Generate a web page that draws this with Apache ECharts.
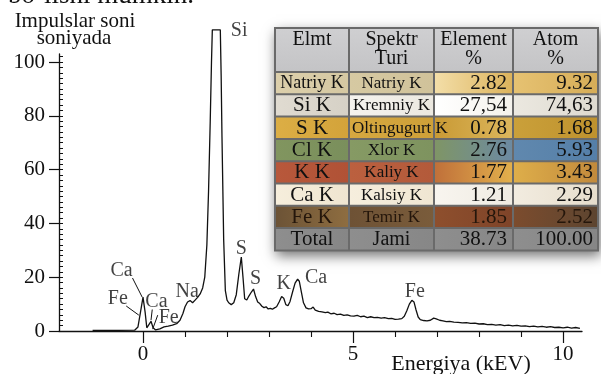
<!DOCTYPE html>
<html><head><meta charset="utf-8">
<script src="https://cdn.jsdelivr.net/npm/echarts@6/dist/echarts.min.js"></script>
<style>html,body{margin:0;padding:0;background:#fff}#c{width:601px;height:374px}</style>
</head><body><div id="c"></div>
<script>
// ---- spectrum ----
const energy = [-1.2,-0.6,-0.2,-0.12,-0.06,0,0.05,0.09,0.13,0.19,0.24,0.3,0.4,0.5,0.6,0.7,0.8,0.88,0.95,1.0,1.06,1.12,1.18,1.24,1.3,1.36,1.42,1.47,1.52,1.56,1.6,1.63,1.65,1.84,1.86,1.88,1.92,1.96,2.0,2.04,2.1,2.16,2.22,2.28,2.34,2.38,2.42,2.47,2.52,2.58,2.63,2.68,2.73,2.78,2.83,2.88,2.93,2.98,3.03,3.08,3.13,3.18,3.24,3.3,3.35,3.4,3.45,3.5,3.56,3.62,3.68,3.72,3.77,3.82,3.88,3.94,4.0,4.05,4.1,4.18,4.26,4.34,4.4,4.47,4.55,4.62,4.7,4.78,4.86,4.94,5.02,5.1,5.18,5.26,5.34,5.42,5.5,5.58,5.67,5.75,5.84,5.92,6.0,6.08,6.16,6.22,6.28,6.34,6.4,6.45,6.5,6.55,6.6,6.68,6.76,6.84,6.92,6.98,7.06,7.14,7.22,7.3,7.4,7.5,7.6,7.7,7.8,7.9,8.0,8.1,8.2,8.3,8.4,8.5,8.6,8.7,8.8,8.9,9.0,9.1,9.2,9.3,9.4,9.5,9.6,9.7,9.8,9.9,10.0,10.1,10.2,10.3,10.4];
const counts = [0.2,0.2,0.3,1.5,7,12.6,7,1.2,1.0,3.6,1.2,0.4,0.8,1.5,1.8,2.2,2.7,4,6.5,9,10.8,11.3,10.5,11.5,12.5,13.8,16,20,32,52,78,100,112,112,95,72,34,15,11.5,10.5,9.8,10.5,13.5,21,27.5,20,12,11.5,13,14.5,15.6,12.8,10.8,10.2,9.2,8.7,9.0,8.2,8.4,8.1,8.6,9.0,10.8,12.8,12.2,9.8,9.4,11,14.5,17.8,19.3,18.5,14.5,10.5,8.6,8.2,8.3,8.9,7.8,7.3,7.1,6.8,7.0,6.4,6.6,6.1,6.3,5.8,6.0,5.6,5.5,5.8,5.3,5.5,5.0,5.3,5.0,5.1,4.8,5.0,4.6,4.7,4.3,4.4,4.6,5.5,7.5,10,11.4,10.8,7.8,5.2,4.2,3.9,3.8,4.0,4.8,4.5,4.0,3.8,3.5,3.6,3.3,3.2,3.0,3.1,2.8,2.9,2.6,2.7,2.4,2.5,2.2,2.4,2.0,2.2,1.9,2.1,1.8,1.9,1.6,1.8,1.5,1.7,1.4,1.6,1.3,1.4,1.2,1.4,1.1,1.3,1.0];

// ---- peak labels ----
const peakNames = ['Si','S','S','K','Ca','Fe','Na','Ca','Fe','Ca','Fe'];
const peakLabelX = [2.29,2.34,2.68,3.35,4.12,6.47,1.05,-0.51,-0.6,0.32,0.61];
const peakLabelY = [111.5,30.5,19.5,17.5,19.9,14.5,14.5,22.3,12.0,11.0,4.8];
// leader lines
const leaderX1 = [-0.25,-0.40,0.22,0.35];
const leaderY1 = [19.7,9.3,8.0,5.9];
const leaderX2 = [-0.02,-0.10,0.19,0.23];
const leaderY2 = [12.6,5.9,4.0,0.7];

// ---- ticks ----
const xMajorTicks = [0,5,10];
const xMinorTicks = [1,2,3,4,6,7,8,9];
const yMajorTicks = [0,20,40,60,80,100];
const yMinorTicks = [2,4,6,8,10,12,14,16,18,20,22,24,26,28,30,32,34,36,38,40,42,44,46,48,50,52,54,56,58,60,62,64,66,68,70,72,74,76,78,80,82,84,86,88,90,92,94,96,98,100,102];

// ---- table ----
const tableHeaderTop = ['Elmt','Spektr','Element','Atom'];
const tableHeaderBottom = ['','Turi','%','%'];
const elementNames = ['Natriy K','Si K','S K','Cl K','K K','Ca K','Fe K','Total'];
const spectrumTypes = ['Natriy K','Kremniy K','Oltingugurt K','Xlor K','Kaliy K','Kalsiy K','Temir K','Jami'];
const elementPct = ['2.82','27,54','0.78','2.76','1.77','1.21','1.85','38.73'];
const atomPct = ['9.32','74,63','1.68','5.93','3.43','2.29','2.52','100.00'];

const FONT = "'Liberation Serif', 'DejaVu Serif', serif";
const INK = '#111111';
const rowColors = [
  [['#dccfab','#d5c8a2'],['#d6c9a2','#d0c29a'],['#f3dea8','#dcb35c'],['#e6c272','#d6ad58']],
  [['#e0dbd1','#d6d1c6'],['#f5f3ee','#ebe8e0'],['#ffffff','#f4f2ec'],['#ebe8e0','#dedad0']],
  [['#dcae45','#d3a33a'],['#d6a840','#cea038'],['#c99a35','#dcb65c'],['#caa03a','#bf922e']],
  [['#81955f','#7a8f5c'],['#869a64','#7e935f'],['#7f9566','#6c8aa2'],['#6088ae','#557fa8']],
  [['#b8583b','#b05236'],['#bb603f','#b35a3a'],['#c0703a','#e2b04c'],['#deae4a','#c28a3c']],
  [['#f6eedc','#efe5d0'],['#f6eedd','#efe6d2'],['#f8f5ef','#efebe2'],['#f2ece0','#e6ddcc']],
  [['#6c5336','#8e6d40'],['#6e5235','#7a5c3b'],['#8e4f2d','#7f4429'],['#7c4c2e','#5d4530']],
  [['#8e8e8e','#868686'],['#8e8e8e','#878787'],['#8e8e8e','#878787'],['#8e8e8e','#868686']]
];

const colX = [275, 349, 434, 513, 598];
const tableTop = 28, headerH = 44, rowH = 22.3;
const measureCtx = document.createElement('canvas').getContext('2d');
function textWidth(t, size){ measureCtx.font = size + 'px ' + FONT; return measureCtx.measureText(t).width; }

function txt(text, x, y, size, align, color){
  return { type:'text', x:x, y:y, z:20, silent:true,
    style:{ text:text, fill:color||INK, font: size+'px '+FONT, fontSize:size, fontFamily:FONT,
      align:align, textAlign:align, verticalAlign:'middle', textVerticalAlign:'middle' } };
}

const graphics = [];
const tableBottom = tableTop + headerH + rowH*elementNames.length;
graphics.push({ type:'rect', z:5, silent:true,
  shape:{ x:colX[0]-1, y:tableTop-1, width:colX[4]-colX[0]+2, height:tableBottom-tableTop+2 },
  style:{ fill:'#6a6a6a', shadowBlur:12, shadowOffsetX:2, shadowOffsetY:5, shadowColor:'rgba(0,0,0,0.55)' } });
for (let c = 0; c < 4; c++) {
  graphics.push({ type:'rect', z:6, silent:true,
    shape:{ x:colX[c]+1, y:tableTop+1, width:colX[c+1]-colX[c]-2, height:headerH-2 },
    style:{ fill:{ type:'linear', x:0, y:0, x2:0, y2:1, colorStops:[{offset:0,color:'#cfcfd1'},{offset:1,color:'#c4c4c6'}] } } });
  const cx = (colX[c]+colX[c+1])/2;
  graphics.push(txt(tableHeaderTop[c], cx, tableTop+12, 20, 'center'));
  if (tableHeaderBottom[c]) graphics.push(txt(tableHeaderBottom[c], cx, tableTop+31, 20, 'center'));
}
for (let r = 0; r < elementNames.length; r++) {
  const y0 = tableTop + headerH + r*rowH;
  const vals = [elementNames[r], spectrumTypes[r], elementPct[r], atomPct[r]];
  for (let c = 0; c < 4; c++) {
    const cc = rowColors[r][c];
    graphics.push({ type:'rect', z:6, silent:true,
      shape:{ x:colX[c]+1, y:y0+1, width:colX[c+1]-colX[c]-2, height:rowH-2 },
      style:{ fill:{ type:'linear', x:0, y:0, x2:1, y2:0, colorStops:[{offset:0,color:cc[0]},{offset:1,color:cc[1]}] } } });
  }
  const ym = y0 + rowH/2 + 0.5;
  const tc = r === 6 ? '#24160b' : INK;
  const size1 = r === 0 ? 18 : 21;
  graphics.push(txt(vals[0], (colX[0]+colX[1])/2, ym, size1, 'center', tc));
  const s2 = 17;
  if (textWidth(vals[1], s2) > colX[2]-colX[1]-4) {
    graphics.push(txt(vals[1], colX[1]+3, ym, s2, 'left', tc));
  } else {
    graphics.push(txt(vals[1], (colX[1]+colX[2])/2, ym, r===7?20:s2, 'center', tc));
  }
  graphics.push(txt(vals[2], colX[3]-6, ym, 21, 'right', tc));
  graphics.push(txt(vals[3], colX[4]-5, ym, 21, 'right', tc));
}
graphics.push(txt('Impulslar soni', 75, 21, 21, 'center'));
graphics.push(txt('soniyada', 74, 38, 21, 'center'));
graphics.push(txt('Energiya (kEV)', 461, 364, 22, 'center'));
graphics.push({ type:'text', x:8, y:-4, z:20, silent:true,
  style:{ text:'bo‘lishi mumkin.', fill:INK, font:'27px '+FONT, fontSize:27, fontFamily:FONT, align:'left', textAlign:'left', verticalAlign:'middle', textVerticalAlign:'middle' } });

const chart = echarts.init(document.getElementById('c'), null, { renderer:'canvas' });
chart.setOption({
  animation:false,
  backgroundColor:'#ffffff',
  grid:{ left:59, right:19, top:54, bottom:43, containLabel:false, outerBoundsMode:'none' },
  xAxis:[
    { type:'value', min:-2, max:10.45, position:'bottom',
      axisLine:{ show:true, onZero:false, lineStyle:{ color:INK, width:1.3 } },
      axisTick:{ show:true, customValues:xMajorTicks, length:12, lineStyle:{ color:INK, width:1.2 } },
      axisLabel:{ show:true, customValues:xMajorTicks, margin:13, fontSize:21, fontFamily:FONT, color:INK },
      splitLine:{ show:false } },
    { type:'value', min:-2, max:10.45, position:'bottom',
      axisLine:{ show:false, onZero:false },
      axisTick:{ show:true, customValues:xMinorTicks, length:6, lineStyle:{ color:INK, width:1.1 } },
      axisLabel:{ show:false }, splitLine:{ show:false } }
  ],
  yAxis:[
    { type:'value', min:0, max:103, position:'left',
      axisLine:{ show:true, onZero:false, lineStyle:{ color:INK, width:1.3 } },
      axisTick:{ show:true, customValues:yMajorTicks, length:10, lineStyle:{ color:INK, width:1.2 } },
      axisLabel:{ show:true, customValues:yMajorTicks, margin:14, fontSize:21, fontFamily:FONT, color:INK },
      splitLine:{ show:false } },
    { type:'value', min:0, max:103, position:'left', offset:0,
      axisLine:{ show:false, onZero:false },
      axisTick:{ show:true, inside:true, customValues:yMinorTicks, length:4, lineStyle:{ color:INK, width:1 } },
      axisLabel:{ show:false }, splitLine:{ show:false } }
  ],
  graphic: graphics,
  series:[
    { type:'line', xAxisIndex:0, yAxisIndex:0, clip:false, symbol:'none', showSymbol:false, silent:true,
      data: energy.map((x,i)=>[x, counts[i]]),
      lineStyle:{ color:INK, width:1.3 },
      markLine:{ silent:true, symbol:['none','none'], animation:false,
        label:{ show:false }, lineStyle:{ color:INK, width:1, type:'solid' },
        data: leaderX1.map((x,i)=>[{ coord:[x, leaderY1[i]] }, { coord:[leaderX2[i], leaderY2[i]] }]) } },
    { type:'scatter', xAxisIndex:0, yAxisIndex:0, clip:false, silent:true, symbolSize:1,
      itemStyle:{ color:'rgba(0,0,0,0)' },
      data: peakNames.map((n,i)=>({ name:n, value:[peakLabelX[i], peakLabelY[i]] })),
      label:{ show:true, position:'inside', formatter:'{b}', fontSize:20, fontFamily:FONT, color:INK } }
  ]
});
</script></body></html>
